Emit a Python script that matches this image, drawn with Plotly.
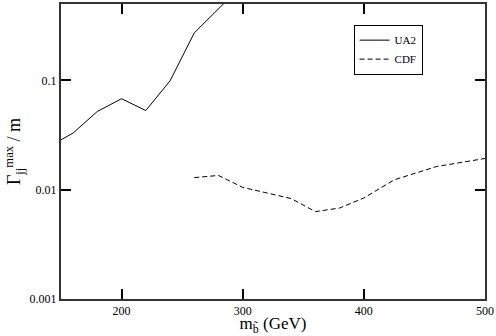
import plotly.graph_objects as go

# UA2 limit (solid)
ua2_mass = [150, 160, 180, 200, 220, 240, 260, 280, 300]
ua2_width = [0.0286, 0.033, 0.052, 0.068, 0.053, 0.099, 0.272, 0.45, 0.75]

# CDF limit (dashed)
cdf_mass = [260, 280, 300, 340, 360, 380, 400, 425, 460, 500]
cdf_width = [0.0129, 0.0135, 0.0105, 0.0083, 0.0063, 0.0068, 0.0084, 0.0123, 0.0163, 0.0193]

y_ticks = [0.001, 0.01, 0.1]
y_labels = ["0.001", "0.01", "0.1"]
x_ticks = [200, 300, 400, 500]

serif = "Liberation Serif"

fig = go.Figure()
fig.add_trace(go.Scatter(x=ua2_mass, y=ua2_width, mode="lines", name="UA2",
                         line=dict(color="black", width=1)))
fig.add_trace(go.Scatter(x=cdf_mass, y=cdf_width, mode="lines", name="CDF",
                         line=dict(color="black", width=1, dash="5px,3px")))

fig.update_xaxes(range=[150, 500], tickvals=x_ticks, ticks="inside", ticklen=10,
                 tickwidth=2, tickcolor="black",
                 showline=True, linecolor="#333", linewidth=2, mirror="allticks",
                 showgrid=False, zeroline=False,
                 tickfont=dict(family=serif, size=12, color="black"),
                 title=dict(text="m<sub>b̃</sub> (GeV)", font=dict(family=serif, size=17, color="black"),
                            standoff=2))
fig.update_yaxes(type="log", range=[-3, -0.301], tickvals=y_ticks, ticktext=y_labels,
                 ticks="inside", ticklen=10, tickwidth=2, tickcolor="black",
                 showline=True, linecolor="#333", linewidth=2, mirror="allticks",
                 showgrid=False, zeroline=False,
                 tickfont=dict(family=serif, size=12, color="black"),
                 title=dict(text="Γ<sub>jj</sub><sup>max</sup> / m",
                            font=dict(family=serif, size=18, color="black"), standoff=4))

fig.update_layout(width=496, height=336, margin=dict(l=61, r=10, t=2, b=37),
                  plot_bgcolor="white", paper_bgcolor="white",
                  font=dict(family=serif, color="black"),
                  legend=dict(x=0.69, y=0.93, xanchor="left", yanchor="top",
                              bgcolor="white", bordercolor="black", borderwidth=1,
                              font=dict(family=serif, size=11, color="black"),
                              tracegroupgap=0, itemwidth=30))

fig.write_html("out.html", config={"displayModeBar": False},
               post_script="document.body.style.margin='0';")
